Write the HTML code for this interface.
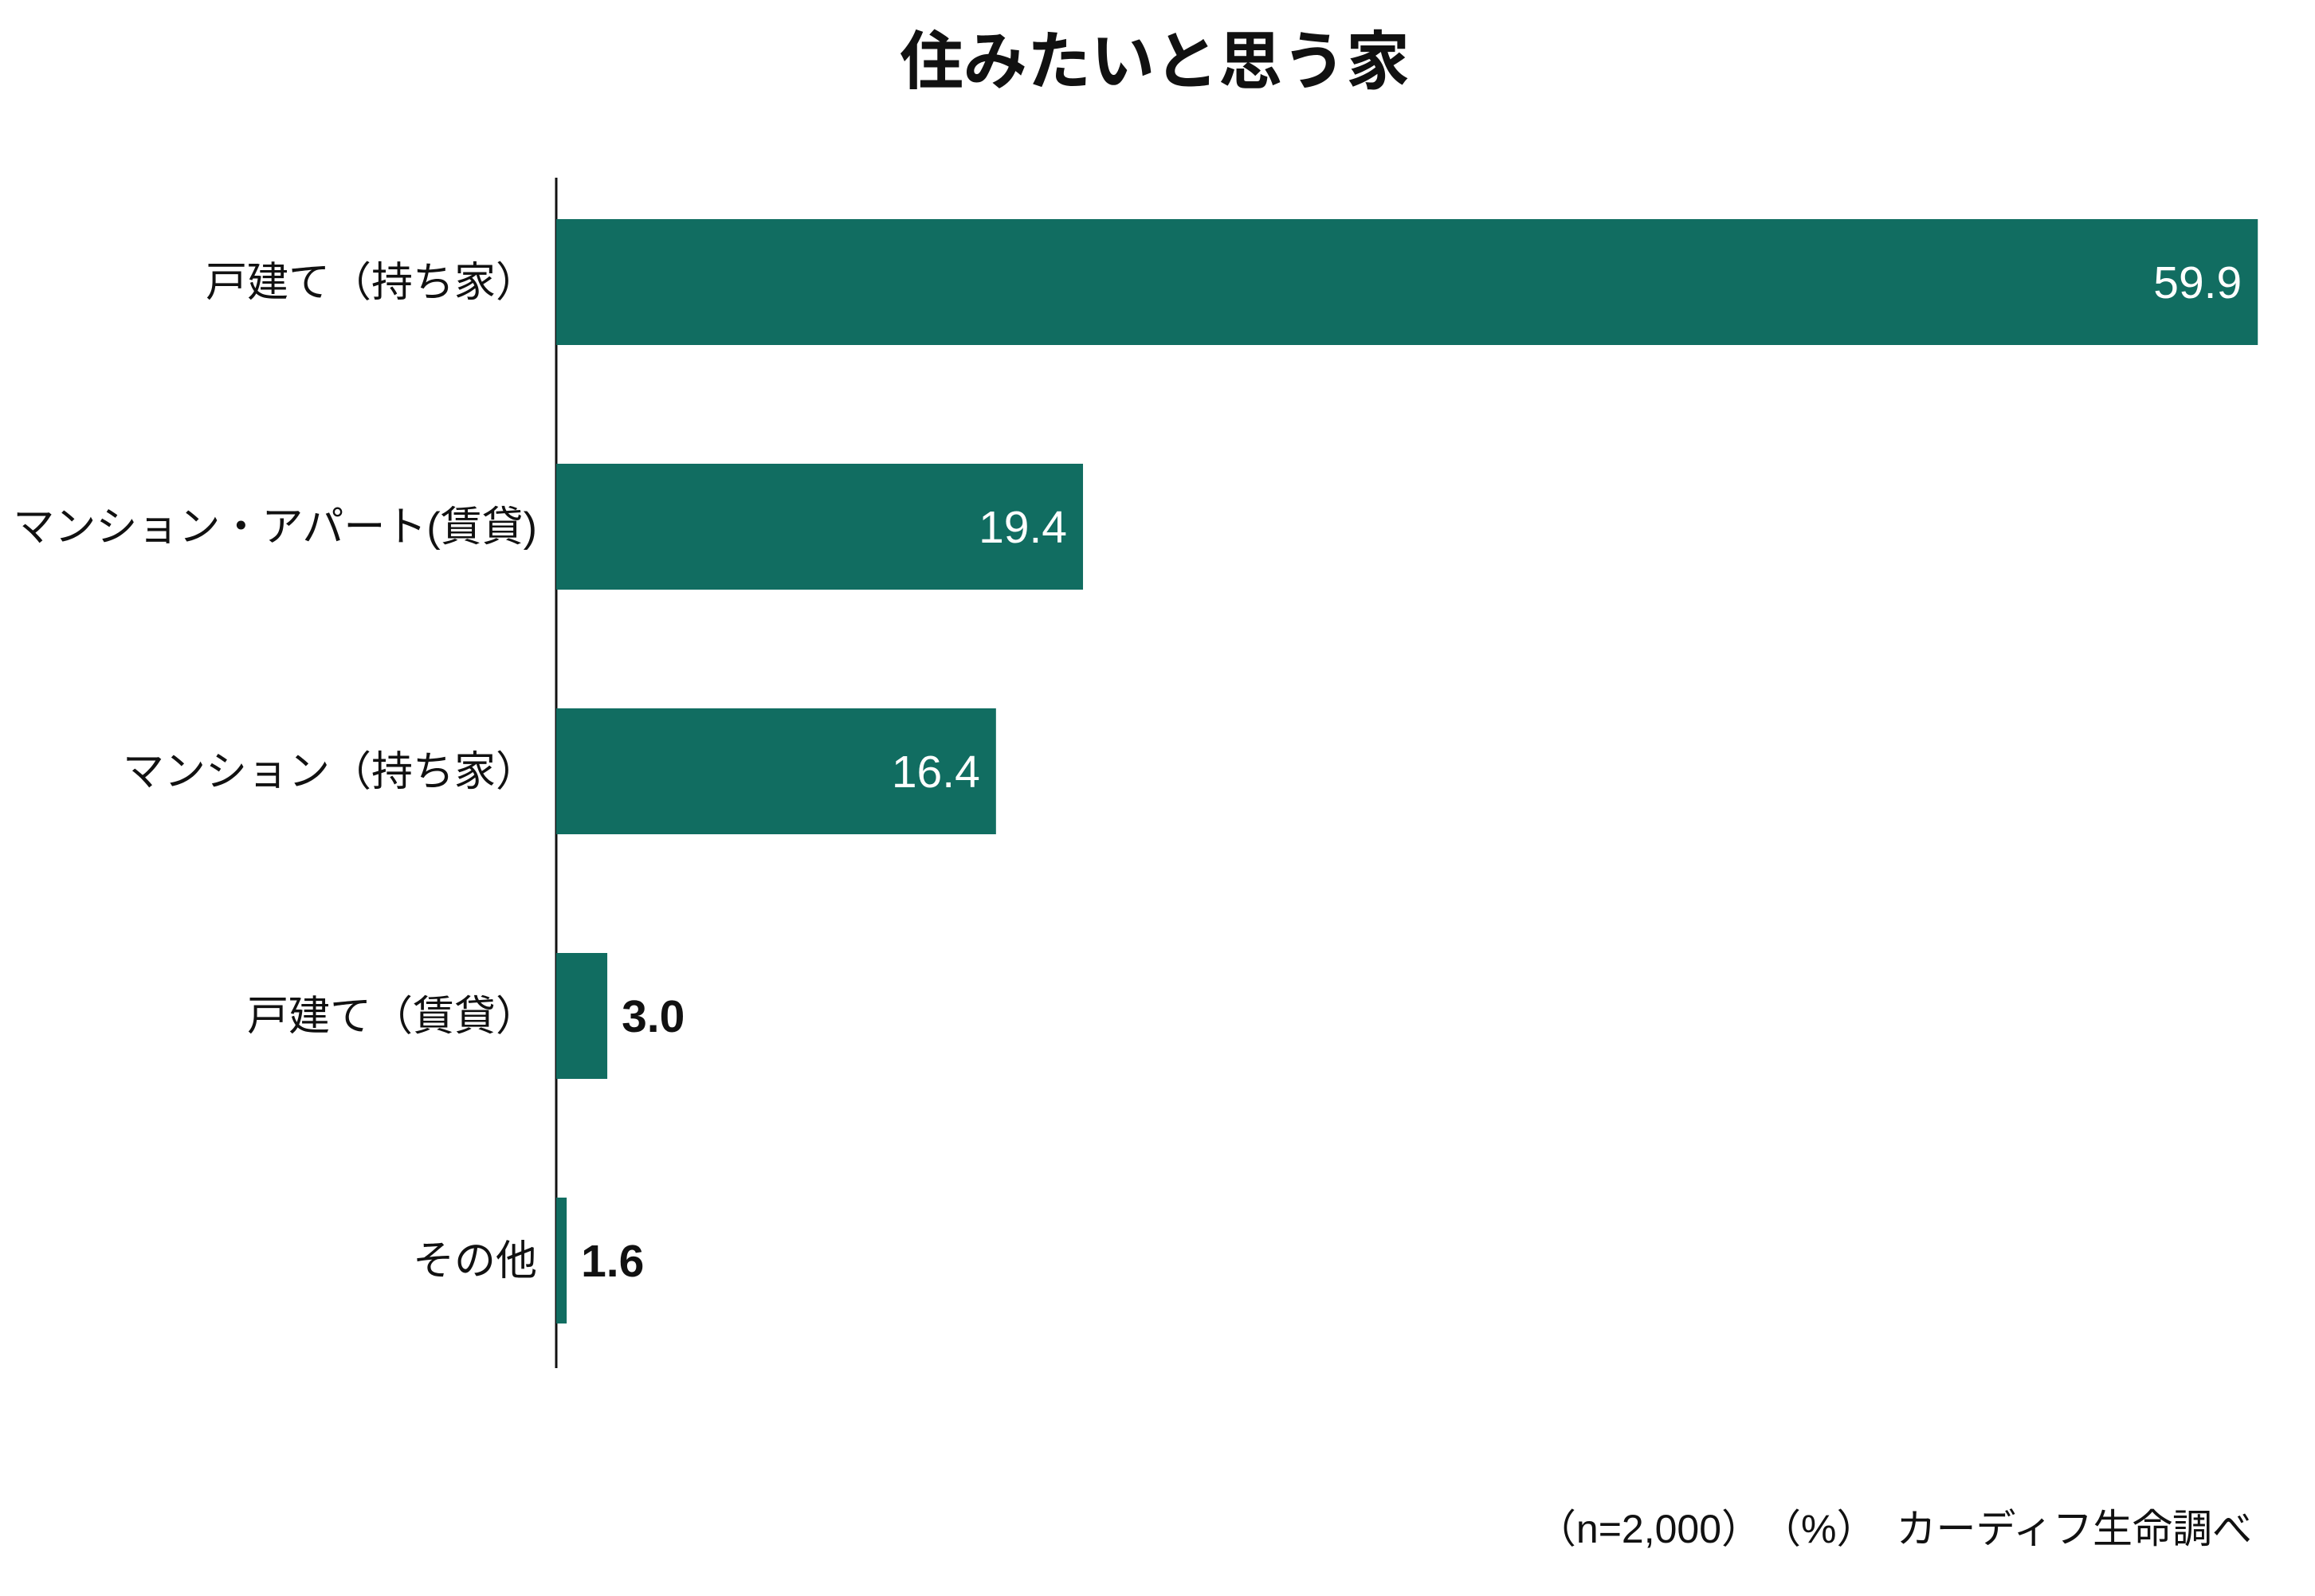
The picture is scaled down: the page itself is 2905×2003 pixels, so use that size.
<!DOCTYPE html>
<html><head><meta charset="utf-8"><style>
html,body{margin:0;padding:0;background:#fff;}
svg{display:block;font-family:"Liberation Sans","Noto Sans CJK JP",sans-serif;}
</style></head><body>
<svg width="2905" height="2003" viewBox="0 0 2905 2003">
<text x="1449" y="105" text-anchor="middle" font-size="80" font-weight="bold" fill="#111">住みたいと思う家</text>
<line x1="698" y1="223" x2="698" y2="1717" stroke="#111" stroke-width="3"/>
<g id="bars"></g>
<text x="2826" y="1936" text-anchor="end" font-size="50" fill="#111">（n=2,000）　（%）　カーディフ生命調べ</text>
</svg>
<script>
const categories = ["戸建て（持ち家）","マンション・アパート(賃貸)","マンション（持ち家）","戸建て（賃貸）","その他"];
const values = [59.9, 19.4, 16.4, 3.0, 1.6];
const labels = ["59.9","19.4","16.4","3.0","1.6"];
const xMin = 1.24, pxPerUnit = 36.4, x0 = 698;
function x(v){ return x0 + (v - xMin) * pxPerUnit; }
function yc(i){ return 354 + i * 307; }
const barH = 158;
const g = document.getElementById('bars');
const NS = 'http://www.w3.org/2000/svg';
values.forEach((v, i) => {
  const r = document.createElementNS(NS, 'rect');
  
  
  r.setAttribute('x', x0);
  r.setAttribute('y', yc(i) - barH / 2);
  r.setAttribute('width', Math.max(0, x(v) - x0));
  r.setAttribute('height', barH);
  r.setAttribute('fill', '#116d61');
  g.appendChild(r);
  const c = document.createElementNS(NS, 'text');
  
  
  c.setAttribute('x', 674);
  c.setAttribute('y', yc(i) + 18);
  c.setAttribute('text-anchor', 'end');
  c.setAttribute('font-size', '52');
  c.setAttribute('fill', '#111');
  c.textContent = categories[i];
  g.appendChild(c);
  const w = x(v) - x0;
  const t = document.createElementNS(NS, 'text');
  
  
  t.setAttribute('y', yc(i) + 20);
  t.setAttribute('font-size', '57');
  if (w > 200) {
    t.setAttribute('x', x(v) - 20);
    t.setAttribute('text-anchor', 'end');
    t.setAttribute('fill', '#fff');
  } else {
    t.setAttribute('x', x(v) + 18);
    t.setAttribute('text-anchor', 'start');
    t.setAttribute('fill', '#111');
    t.setAttribute('font-weight', 'bold');
  }
  t.textContent = labels[i];
  g.appendChild(t);
});
</script>
</body></html>
